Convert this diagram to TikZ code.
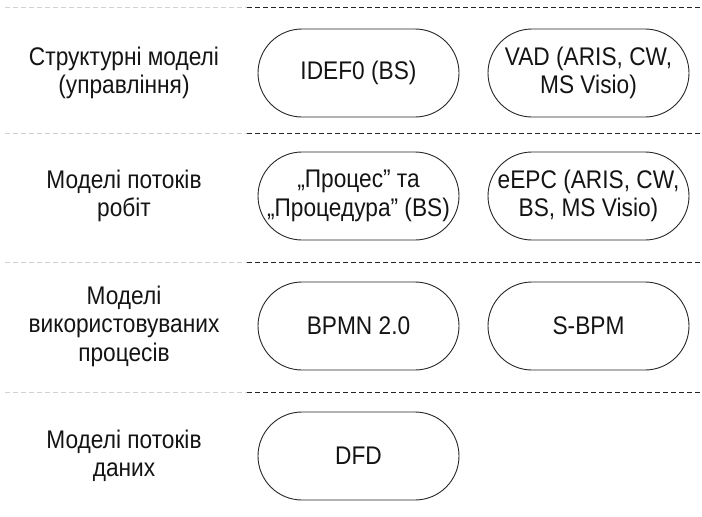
\documentclass[tikz,border=0pt]{standalone}
\usepackage{fontspec}
\setmainfont[FakeStretch=0.89]{Liberation Sans}
\begin{document}
\begin{tikzpicture}[x=1pt,y=-1pt,
  every node/.style={font=\fontsize{25.5}{28.5}\selectfont, text=black!92, align=center},
  pill/.style={draw=black!85, line width=0.9pt, rounded corners=44pt,
    minimum width=201pt, minimum height=88pt, inner sep=0pt},
  rowlabel/.style={inner sep=0pt},
  sepfaint/.style={draw=black!18, line width=0.8pt, dash pattern=on 5pt off 3pt},
  sepdark/.style={draw=black!85, line width=0.9pt, dash pattern=on 5pt off 3pt}]
\useasboundingbox (0,0) rectangle (702,517);

% row separators: faint part under the labels, dark part under the models
\foreach \y/\n in {7/a,133/b,262/c,392/d}{
  \coordinate (l\n) at (5,\y);
  \coordinate (m\n) at (247,\y);
  \coordinate (r\n) at (702,\y);
  \draw[sepfaint] (l\n) -- (m\n);
  \draw[sepdark] (m\n) -- (r\n);
}

% row labels
\node[rowlabel] (lab1) at (124,73) {Структурні моделі\\(управління)};
\node[rowlabel] (lab2) at (124,196) {Моделі потоків\\робіт};
\node[rowlabel] (lab3) at (124,326) {Моделі\\використовуваних\\процесів};
\node[rowlabel] (lab4) at (124,456) {Моделі потоків\\даних};

% model notations
\node[pill] (idef) at (358.5,73) {IDEF0 (BS)};
\node[pill] (vad) at (588.5,73) {VAD (ARIS, CW,\\MS Visio)};
\node[pill] (proc) at (358.5,196) {„Процес” та\\„Процедура” (BS)};
\node[pill] (epc) at (588.5,196) {eEPC (ARIS, CW,\\BS, MS Visio)};
\node[pill] (bpmn) at (358.5,326) {BPMN 2.0};
\node[pill] (sbpm) at (588.5,326) {S-BPM};
\node[pill] (dfd) at (358.5,456) {DFD};
\end{tikzpicture}
\end{document}
